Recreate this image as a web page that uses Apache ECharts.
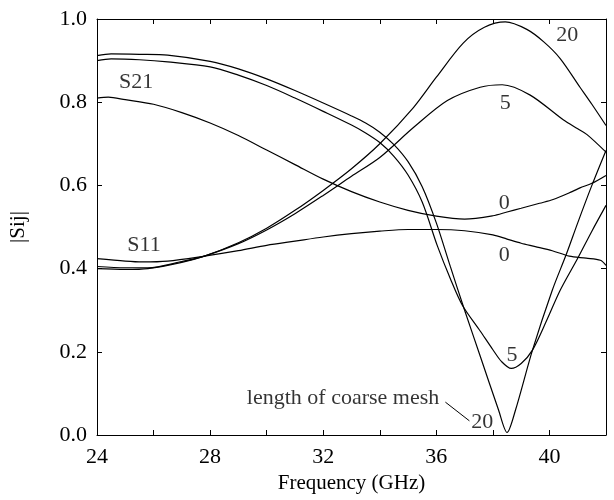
<!DOCTYPE html>
<html>
<head>
<meta charset="utf-8">
<script src="https://cdn.jsdelivr.net/npm/echarts@6/dist/echarts.min.js"></script>
<style>
html,body{margin:0;padding:0;background:#fff;}
#chart{width:614px;height:500px;}
</style>
</head>
<body>
<div id="chart"></div>
<script>
// ---- data ----
const s21_0_x = [24, 24.4, 25, 26, 27, 28, 29, 30, 31, 32, 33, 34, 35, 36, 37, 38, 38.5, 39, 39.65, 40.13, 40.8, 41.08, 41.5, 42];
const s21_0_y = [0.81, 0.812, 0.806, 0.795, 0.775, 0.75, 0.72, 0.685, 0.65, 0.615, 0.585, 0.56, 0.54, 0.526, 0.519, 0.527, 0.536, 0.545, 0.557, 0.566, 0.585, 0.594, 0.605, 0.624];

const s21_5_x = [24, 24.5, 25.5, 26.5, 28, 29, 30, 31, 32, 33, 33.5, 34, 34.5, 35, 35.5, 36.04, 36.5, 36.92, 37.55, 38.0, 38.3, 38.65, 39.0, 39.4, 39.9, 40.38, 41, 41.5, 42];
const s21_5_y = [0.90, 0.904, 0.902, 0.897, 0.885, 0.865, 0.84, 0.81, 0.778, 0.745, 0.726, 0.703, 0.67, 0.625, 0.56, 0.454, 0.375, 0.312, 0.25, 0.205, 0.177, 0.16, 0.172, 0.204, 0.275, 0.348, 0.425, 0.49, 0.552];

const s21_20_x = [24, 24.5, 25.5, 26.5, 28, 29, 30, 31, 32, 33, 33.5, 34, 34.5, 35, 35.5, 36, 36.5, 37, 37.55, 38.2, 38.5, 38.8, 39.4, 40.1, 40.6, 41, 41.5, 42];
const s21_20_y = [0.912, 0.916, 0.915, 0.913, 0.898, 0.88, 0.856, 0.828, 0.798, 0.767, 0.75, 0.728, 0.698, 0.657, 0.597, 0.51, 0.404, 0.3, 0.19, 0.06, 0.006, 0.06, 0.204, 0.348, 0.435, 0.51, 0.6, 0.684];

const s11_0_x = [24, 25, 25.6, 26.5, 27.8, 29, 30, 31, 32, 33, 34, 35, 36, 37, 38, 38.5, 39, 39.5, 40.1, 40.7, 41.3, 41.8, 42];
const s11_0_y = [0.424, 0.418, 0.416, 0.418, 0.43, 0.443, 0.456, 0.466, 0.476, 0.484, 0.49, 0.494, 0.494, 0.491, 0.481, 0.471, 0.461, 0.453, 0.443, 0.43, 0.425, 0.42, 0.408];

const s11_5_x = [24, 25, 25.8, 27, 27.8, 29, 30, 31, 32, 33, 34, 35.19, 36.39, 37.55, 38.33, 39.32, 40.5, 41.0, 41.33, 42];
const s11_5_y = [0.40, 0.398, 0.40, 0.415, 0.43, 0.46, 0.493, 0.532, 0.576, 0.622, 0.667, 0.739, 0.804, 0.836, 0.842, 0.817, 0.757, 0.736, 0.722, 0.68];

const s11_20_x = [24, 25, 25.8, 27, 27.8, 29, 30, 31, 32, 33, 34, 35.19, 36, 36.95, 37.7, 38.44, 39.2, 39.8, 40.38, 41.08, 41.5, 42];
const s11_20_y = [0.405, 0.402, 0.402, 0.417, 0.43, 0.462, 0.497, 0.54, 0.588, 0.64, 0.70, 0.787, 0.86, 0.942, 0.98, 0.993, 0.975, 0.945, 0.905, 0.836, 0.795, 0.744];

// curve annotations
const labelX = [25.38, 25.66, 40.63, 38.44, 38.40, 38.40, 38.68, 37.62];
const labelY = [0.848, 0.456, 0.96, 0.797, 0.557, 0.432, 0.192, 0.031];
const labelText = ['S21', 'S11', '20', '5', '0', '0', '5', '20'];
const noteText = 'length of coarse mesh';
const notePos = [36.14, 0.089];
const leaderX = [36.32, 37.17];
const leaderY = [0.079, 0.034];

// axis ticks
const xMin = 24, xMax = 42, xStep = 2, xLabelStep = 4;
const yMin = 0, yMax = 1, yStep = 0.2;

const FONT = 'Liberation Serif';
const pairs = (xs, ys) => xs.map((x, i) => [x, ys[i]]);

const chart = echarts.init(document.getElementById('chart'), null, {renderer: 'canvas'});

const lineStyle = {color: '#000', width: 1.2};
function curve(name, xs, ys) {
  return {
    type: 'line', name, data: pairs(xs, ys), smooth: 0.3,
    showSymbol: false, symbol: 'none', lineStyle, silent: true, xAxisIndex: 0, yAxisIndex: 0
  };
}

const axisCommon = {
  axisLine: {show: true, onZero: false, lineStyle: {color: '#000', width: 1}},
  axisTick: {show: true, inside: true, length: 5, lineStyle: {color: '#000', width: 1}},
  splitLine: {show: false}
};

const option = {
  backgroundColor: '#fff',
  animation: false,
  grid: {left: 96, right: 8, top: 19, bottom: 65, containLabel: false},
  xAxis: [
    Object.assign({
      type: 'value', min: xMin, max: xMax, interval: xStep, position: 'bottom',
      name: 'Frequency (GHz)', nameLocation: 'middle', nameGap: 34,
      nameTextStyle: {fontFamily: FONT, fontSize: 21, color: '#000'},
      axisLabel: {
        color: '#000', fontFamily: FONT, fontSize: 22, margin: 11,
        formatter: v => (v % xLabelStep === 0 && v < xMax) ? String(v) : ''
      }
    }, axisCommon),
    Object.assign({
      type: 'value', min: xMin, max: xMax, interval: xStep, position: 'top',
      axisLabel: {show: false}
    }, axisCommon)
  ],
  yAxis: [
    Object.assign({
      type: 'value', min: yMin, max: yMax, interval: yStep, position: 'left',
      name: '|Sij|', nameLocation: 'middle', nameGap: 68, nameRotate: 90,
      nameTextStyle: {fontFamily: FONT, fontSize: 21, color: '#000'},
      axisLabel: {
        color: '#000', fontFamily: FONT, fontSize: 22, margin: 10,
        formatter: v => v.toFixed(1)
      }
    }, axisCommon),
    Object.assign({
      type: 'value', min: yMin, max: yMax, interval: yStep, position: 'right',
      axisLabel: {show: false}
    }, axisCommon)
  ],
  series: [
    curve('S21 0', s21_0_x, s21_0_y),
    curve('S21 5', s21_5_x, s21_5_y),
    curve('S21 20', s21_20_x, s21_20_y),
    curve('S11 0', s11_0_x, s11_0_y),
    curve('S11 5', s11_5_x, s11_5_y),
    curve('S11 20', s11_20_x, s11_20_y),
    {
      type: 'line', data: pairs(leaderX, leaderY), showSymbol: false, symbol: 'none',
      lineStyle: {color: '#000', width: 1}, silent: true
    },
    {
      type: 'scatter', silent: true, symbolSize: 2,
      itemStyle: {color: 'rgba(255,255,255,0)'},
      label: {show: true, position: 'inside', color: '#000',
              textBorderWidth: 0, fontFamily: FONT, fontSize: 22,
              formatter: p => p.data.name},
      data: labelX.map((x, i) => ({name: labelText[i], value: [x, labelY[i]]})).concat([
        {name: noteText, value: notePos,
         label: {position: 'left', distance: 0}}
      ])
    }
  ]
};
chart.setOption(option);
</script>
</body>
</html>
